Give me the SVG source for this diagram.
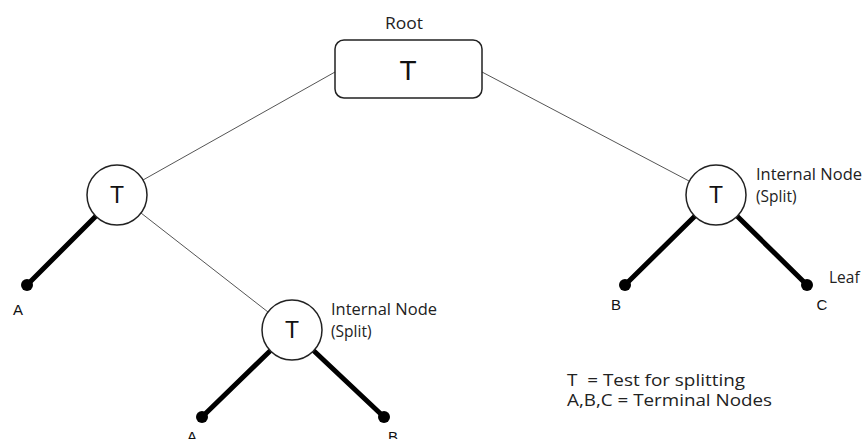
<svg xmlns="http://www.w3.org/2000/svg" width="863" height="439" viewBox="0 0 863 439">
<style>
.thin{stroke:#555;stroke-width:1;fill:none}
.thick{stroke:#000;stroke-width:5;fill:none;stroke-linecap:round}
.dot{fill:#000}
.node{fill:#fff;stroke:#222;stroke-width:1.5}
.t{font-family:"Liberation Sans",Arial,sans-serif;fill:#111;text-anchor:middle}
.lbl{font-family:"Liberation Sans",Arial,sans-serif;font-size:15px;fill:#111;text-anchor:middle}
.note{font-family:"Open Sans","Noto Sans",sans-serif;font-size:15.5px;fill:#222}
.legend{font-family:"Open Sans","Noto Sans",sans-serif;font-size:16px;fill:#222;white-space:pre}
</style>
<rect width="863" height="439" fill="#fff"/>
<g id="connectors">
<line class="thin" x1="335" y1="72" x2="143" y2="180"/>
<line class="thin" x1="482" y1="72" x2="689" y2="181"/>
<line class="thin" x1="141" y1="213" x2="268" y2="312"/>
<line class="thick" x1="96" y1="216" x2="27" y2="285"/>
<line class="thick" x1="695" y1="216" x2="625" y2="285"/>
<line class="thick" x1="737" y1="216" x2="807" y2="285"/>
<line class="thick" x1="270" y1="351" x2="202" y2="417"/>
<line class="thick" x1="314" y1="351" x2="384" y2="417"/>
</g>
<g id="root">
<text class="note" x="385" y="29" font-size="17" textLength="38" lengthAdjust="spacingAndGlyphs">Root</text>
<rect class="node" x="335" y="40" width="147" height="58" rx="9"/>
<text class="t" x="408" y="80" font-size="28">T</text>
</g>
<g id="left-node">
<circle class="node" cx="117" cy="195" r="30"/>
<text class="t" x="117" y="203" font-size="23">T</text>
</g>
<g id="right-node">
<circle class="node" cx="716" cy="195" r="30"/>
<text class="t" x="716" y="203" font-size="23">T</text>
<text class="note" x="756" y="180" textLength="106" lengthAdjust="spacingAndGlyphs">Internal Node</text>
<text class="note" x="756" y="202">(Split)</text>
</g>
<g id="lower-node">
<circle class="node" cx="292" cy="330" r="30"/>
<text class="t" x="292" y="338" font-size="23">T</text>
<text class="note" x="331" y="315" textLength="106" lengthAdjust="spacingAndGlyphs">Internal Node</text>
<text class="note" x="331" y="337">(Split)</text>
</g>
<g id="leaf-A1"><circle class="dot" cx="27" cy="285" r="6"/><text class="lbl" x="18" y="315">A</text></g>
<g id="leaf-B1"><circle class="dot" cx="625" cy="285" r="6"/><text class="lbl" x="616" y="310">B</text></g>
<g id="leaf-C1"><circle class="dot" cx="807" cy="285" r="6"/><text class="lbl" x="822" y="310">C</text><text class="note" x="829" y="283">Leaf</text></g>
<g id="leaf-A2"><circle class="dot" cx="202" cy="417" r="6"/><text class="lbl" x="192" y="442">A</text></g>
<g id="leaf-B2"><circle class="dot" cx="384" cy="417" r="6"/><text class="lbl" x="393" y="442">B</text></g>
<g id="legend">
<text class="legend" x="567" y="386" textLength="178" lengthAdjust="spacingAndGlyphs" xml:space="preserve">T  = Test for splitting</text>
<text class="legend" x="567" y="406" textLength="205" lengthAdjust="spacingAndGlyphs">A,B,C = Terminal Nodes</text>
</g>
</svg>
